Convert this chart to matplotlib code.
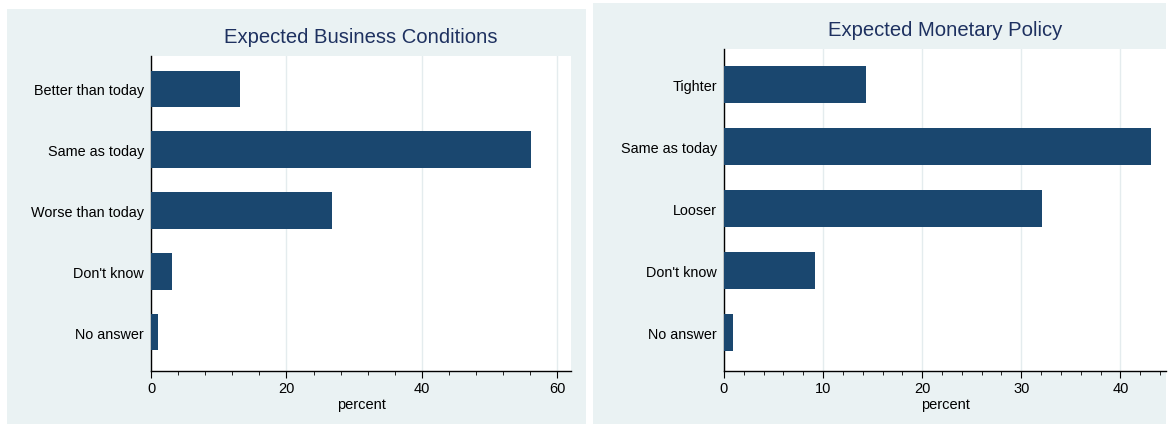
import matplotlib.pyplot as plt
from matplotlib.patches import Rectangle
from matplotlib.ticker import MultipleLocator

plt.rcParams['font.family'] = ['Liberation Sans', 'DejaVu Sans']

# data (percent)
business_cats = ["Better than today", "Same as today", "Worse than today",
                 "Don't know", "No answer"]
business_vals = [13.1, 56.1, 26.7, 3.1, 1.0]

monetary_cats = ["Tighter", "Same as today", "Looser", "Don't know", "No answer"]
monetary_vals = [14.3, 43.1, 32.1, 9.2, 0.9]

BAR = '#1a476f'
BG = '#eaf2f3'
GRID = '#e4ecee'
TITLE = '#1e3160'

W, H = 1169, 427
fig = plt.figure(figsize=(W / 100, H / 100), dpi=100)


def px_box(x0, y0, x1, y1):
    # pixel box (top-left origin) -> figure fraction [left, bottom, w, h]
    return [x0 / W, 1 - y1 / H, (x1 - x0) / W, (y1 - y0) / H]


# light panel backgrounds, kept behind the axes
for box in [px_box(7, 10, 586, 425), px_box(593, 4, 1166, 425)]:
    fig.patches.append(Rectangle((box[0], box[1]), box[2], box[3],
                                 transform=fig.transFigure, facecolor=BG,
                                 edgecolor='none', zorder=-5))


def make_panel(rect, cats, vals, title, xmax, major, minor, ylim):
    ax = fig.add_axes(rect)
    ax.set_zorder(1)
    pos = list(range(len(cats)))
    ax.barh(pos, vals, height=0.6, color=BAR, zorder=3)
    ax.set_ylim(*ylim)
    ax.set_xlim(0, xmax)
    ax.set_yticks(pos)
    ax.set_yticklabels(cats, fontsize=10.4)
    ax.tick_params(axis='y', length=0, pad=5)
    ax.xaxis.set_major_locator(MultipleLocator(major))
    ax.xaxis.set_minor_locator(MultipleLocator(minor))
    ax.tick_params(axis='x', which='major', length=5, labelsize=10.5, pad=2)
    ax.tick_params(axis='x', which='minor', length=3)
    ax.grid(axis='x', color=GRID, linewidth=1, zorder=0)
    for s in ['top', 'right']:
        ax.spines[s].set_visible(False)
    for s in ['left', 'bottom']:
        ax.spines[s].set_linewidth(1)
    ax.set_xlabel('percent', fontsize=10.5, labelpad=2)
    ax.set_title(title, fontsize=14.6, color=TITLE, pad=10)
    return ax


make_panel(px_box(151, 57, 571, 372), business_cats, business_vals,
           "Expected Business Conditions", 62, 20, 4, (4.64, -0.54))
make_panel(px_box(724, 50, 1166, 372), monetary_cats, monetary_vals,
           "Expected Monetary Policy", 44.6, 10, 2, (4.63, -0.58))

fig.savefig('out.png', dpi=100, facecolor='white')
